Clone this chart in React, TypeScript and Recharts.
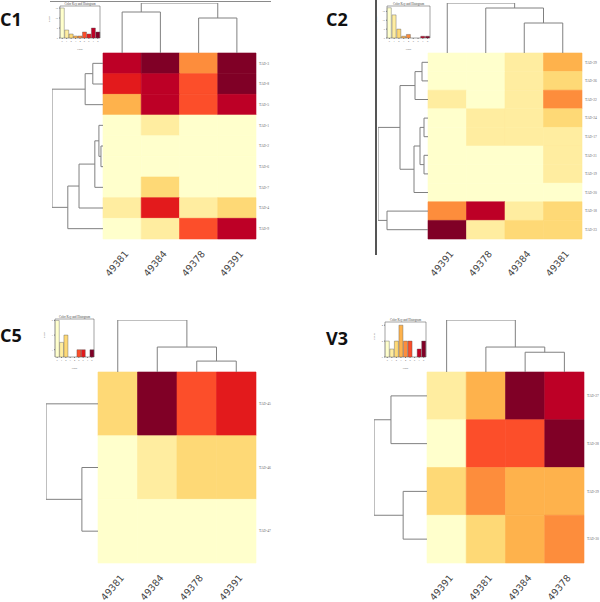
import React from 'react';
import {
  ScatterChart, Scatter, XAxis, YAxis, ReferenceArea, ReferenceLine,
  BarChart, Bar, Cell,
} from 'recharts';

// ColorBrewer YlOrRd, 9 levels
const PALETTE = ['#FFFFCC', '#FFEDA0', '#FED976', '#FEB24C', '#FD8D3C', '#FC4E2A', '#E31A1C', '#BD0026', '#800026'];

// ---------- C1 ----------
const C1_COLS = ['49381', '49384', '49378', '49391'];
const C1_ROWS = ['TAD-3', 'TAD-8', 'TAD-5', 'TAD-1', 'TAD-2', 'TAD-6', 'TAD-7', 'TAD-4', 'TAD-9'];
const C1_LEVELS = [
  [7, 8, 4, 8],
  [6, 7, 5, 8],
  [3, 7, 5, 7],
  [0, 1, 0, 0],
  [0, 0, 0, 0],
  [0, 0, 0, 0],
  [0, 2, 0, 0],
  [1, 6, 1, 2],
  [0, 1, 5, 7],
];
const C1_COL_MERGES: [number, number, number][] = [[0, 1, 0.82], [2, 3, 0.70], [4, 5, 1.0]];
const C1_ROW_MERGES: [number, number, number][] = [
  [0, 1, 0.20], [9, 2, 0.35], [4, 5, 0.04], [3, 11, 0.08], [12, 6, 0.16], [13, 7, 0.47], [14, 8, 0.69], [10, 15, 1.0],
];
const C1_HIST = [15, 4, 2, 1, 1, 3, 2, 5, 3];

// ---------- C2 ----------
const C2_COLS = ['49391', '49378', '49384', '49381'];
const C2_ROWS = ['TAD-29', 'TAD-26', 'TAD-22', 'TAD-24', 'TAD-17', 'TAD-21', 'TAD-19', 'TAD-20', 'TAD-18', 'TAD-23'];
const C2_LEVELS = [
  [0, 0, 1, 3],
  [0, 0, 1, 2],
  [1, 0, 1, 4],
  [0, 1, 1, 2],
  [0, 1, 1, 1],
  [0, 0, 0, 1],
  [0, 0, 0, 1],
  [0, 0, 0, 0],
  [4, 7, 1, 2],
  [8, 1, 2, 2],
];
const C2_COL_MERGES: [number, number, number][] = [[2, 3, 0.6], [1, 4, 0.9], [0, 5, 1.0]];
const C2_ROW_MERGES: [number, number, number][] = [
  [0, 1, 0.12], [10, 2, 0.26], [3, 4, 0.08], [5, 6, 0.08], [12, 13, 0.16], [14, 7, 0.28], [11, 15, 0.56], [8, 9, 0.82], [16, 17, 1.0],
];
const C2_HIST = [17, 13, 5, 1, 2, 0, 0, 1, 1];

// ---------- C5 ----------
const C5_COLS = ['49381', '49384', '49378', '49391'];
const C5_ROWS = ['TAD-45', 'TAD-46', 'TAD-47'];
const C5_LEVELS = [
  [2, 8, 5, 6],
  [0, 1, 2, 2],
  [0, 0, 0, 0],
];
const C5_COL_MERGES: [number, number, number][] = [[2, 3, 0.21], [1, 4, 0.48], [0, 5, 1.0]];
const C5_ROW_MERGES: [number, number, number][] = [[1, 2, 0.31], [0, 3, 1.0]];
const C5_HIST = [5, 2, 3, 0, 0, 1, 1, 0, 1];

// ---------- V3 ----------
const V3_COLS = ['49391', '49381', '49384', '49378'];
const V3_ROWS = ['TAD-27', 'TAD-28', 'TAD-29', 'TAD-30'];
const V3_LEVELS = [
  [1, 3, 8, 7],
  [0, 5, 5, 8],
  [2, 4, 3, 3],
  [0, 2, 3, 4],
];
const V3_COL_MERGES: [number, number, number][] = [[2, 3, 0.38], [1, 4, 0.48], [0, 5, 1.0]];
const V3_ROW_MERGES: [number, number, number][] = [[0, 1, 0.68], [2, 3, 0.45], [4, 5, 1.0]];
const V3_HIST = [2, 1, 2, 4, 2, 2, 0, 1, 2];

type Pt = { x: number; y: number };
type Seg = [Pt, Pt];

function dendro(n: number, merges: [number, number, number][], side: 'top' | 'left', span: number): Seg[] {
  const pos: number[] = [];
  const hgt: number[] = [];
  for (let i = 0; i < n; i++) { pos.push(i + 0.5); hgt.push(0); }
  const segs: Seg[] = [];
  const P = (p: number, h: number): Pt => (side === 'top' ? { x: p, y: -h * span } : { x: -h * span, y: p });
  merges.forEach(([a, b, h], k) => {
    const id = n + k;
    pos[id] = (pos[a] + pos[b]) / 2;
    hgt[id] = h;
    segs.push([P(pos[a], hgt[a]), P(pos[a], h)]);
    segs.push([P(pos[b], hgt[b]), P(pos[b], h)]);
    segs.push([P(pos[a], h), P(pos[b], h)]);
  });
  return segs;
}

type PanelCfg = {
  title: string;
  titlePos: { left: number; top: number };
  cols: string[];
  rows: string[];
  levels: number[][];
  colMerges: [number, number, number][];
  rowMerges: [number, number, number][];
  hist: number[];
  histMax: number;
  histTicks: number[];
  heat: { x: number; y: number; w: number; h: number };
  dl: number;
  dt: number;
  inset: { left: number; top: number; w: number; h: number };
};

const ColTick = (props: any) => {
  const { x, y, payload, labels } = props;
  const label = labels[Math.floor(payload.value)];
  const ax = x + 7;
  const ay = y + 15;
  return (
    <text x={ax} y={ay} transform={`rotate(-50, ${ax}, ${ay})`} textAnchor="end"
      fontSize={9.5} fill="#444" fontFamily="DejaVu Sans, sans-serif">
      {label}
    </text>
  );
};

function Heatmap({ cfg }: { cfg: PanelCfg }) {
  const nC = cfg.cols.length;
  const nR = cfg.rows.length;
  const colW = cfg.heat.w / nC;
  const rowH = cfg.heat.h / nR;
  const L = cfg.dl / colW;
  const T = cfg.dt / rowH;
  const width = cfg.dl + cfg.heat.w + 40;
  const height = cfg.dt + cfg.heat.h + 60;
  const cells: { x: number; y: number; c: number; r: number; lv: number }[] = [];
  cfg.levels.forEach((row, r) => row.forEach((lv, c) => cells.push({ x: c + 0.5, y: r + 0.5, c, r, lv })));
  const segs = [...dendro(nC, cfg.colMerges, 'top', T), ...dendro(nR, cfg.rowMerges, 'left', L)];
  const colTicks = cfg.cols.map((_, i) => i + 0.5);
  const rowTicks = cfg.rows.map((_, i) => i + 0.5);
  return (
    <div style={{ position: 'absolute', left: cfg.heat.x - cfg.dl, top: cfg.heat.y - cfg.dt }}>
      <ScatterChart width={width} height={height} margin={{ top: 0, right: 0, bottom: 0, left: 0 }}>
        <XAxis type="number" dataKey="x" domain={[-L, nC]} allowDataOverflow ticks={colTicks} interval={0}
          axisLine={false} tickLine={false} tickSize={0} tickMargin={0} height={60}
          tick={<ColTick labels={cfg.cols} />} />
        <YAxis type="number" dataKey="y" orientation="right" reversed domain={[-T, nR]} allowDataOverflow
          ticks={rowTicks} interval={0} axisLine={false} tickLine={false} tickSize={1} tickMargin={2} width={40}
          tickFormatter={(v: number) => cfg.rows[Math.floor(v)]}
          tick={{ fontSize: 3.6, fill: '#666', textAnchor: 'start' }} />
        {cells.map((d, i) => (
          <ReferenceArea key={'c' + i} x1={d.c} x2={d.c + 1} y1={d.r} y2={d.r + 1}
            fill={PALETTE[d.lv]} fillOpacity={1} stroke={PALETTE[d.lv]} strokeWidth={0.6} ifOverflow="visible" />
        ))}
        {segs.map((s, i) => (
          <ReferenceLine key={'s' + i} segment={s} stroke="#808080" strokeWidth={1} ifOverflow="visible" />
        ))}
        <Scatter data={cells} isAnimationActive={false} shape={() => <g />} />
      </ScatterChart>
    </div>
  );
}

function Inset({ cfg }: { cfg: PanelCfg }) {
  const data = cfg.hist.map((count, i) => ({ bin: String(i), count }));
  return (
    <div style={{ position: 'absolute', left: cfg.inset.left, top: cfg.inset.top }}>
      <BarChart width={cfg.inset.w} height={cfg.inset.h} data={data} barCategoryGap="6%"
        margin={{ top: 6, right: 2, bottom: 0, left: 0 }}>
        <XAxis dataKey="bin" height={14} interval={0} tickSize={1} tickMargin={1}
          axisLine={false} tick={{ fontSize: 2.4, fill: '#555' }} stroke="#777"
          label={{ value: 'Value', position: 'insideBottom', fontSize: 2.6, fill: '#555', offset: 2 }} />
        <YAxis width={12} domain={[0, cfg.histMax]} ticks={cfg.histTicks} allowDataOverflow tickSize={1} tickMargin={1}
          axisLine={false} tick={{ fontSize: 2.4, fill: '#555' }} stroke="#777"
          label={{ value: 'Count', angle: -90, position: 'insideLeft', fontSize: 2.6, fill: '#555', offset: 1 }} />
        <ReferenceArea x1="0" x2={String(cfg.hist.length - 1)} y1={0} y2={cfg.histMax} fill="none" stroke="#666"
          strokeWidth={0.6} ifOverflow="visible"
          label={{ value: 'Color Key and Histogram', position: 'top', fontSize: 3, fill: '#444', offset: 1 }} />
        <Bar dataKey="count" isAnimationActive={false} stroke="#555" strokeWidth={0.4}>
          {data.map((d, i) => <Cell key={i} fill={PALETTE[i]} />)}
        </Bar>
      </BarChart>
    </div>
  );
}

const PANELS: PanelCfg[] = [
  {
    title: 'C1', titlePos: { left: 0, top: 10 }, cols: C1_COLS, rows: C1_ROWS, levels: C1_LEVELS,
    colMerges: C1_COL_MERGES, rowMerges: C1_ROW_MERGES, hist: C1_HIST, histMax: 16, histTicks: [0, 5, 10, 15],
    heat: { x: 103, y: 53, w: 153, h: 186 }, dl: 51, dt: 50, inset: { left: 48, top: 0, w: 54, h: 52 },
  },
  {
    title: 'C2', titlePos: { left: 326, top: 10 }, cols: C2_COLS, rows: C2_ROWS, levels: C2_LEVELS,
    colMerges: C2_COL_MERGES, rowMerges: C2_ROW_MERGES, hist: C2_HIST, histMax: 18, histTicks: [0, 5, 10, 15],
    heat: { x: 428, y: 53, w: 154, h: 186 }, dl: 50, dt: 50, inset: { left: 375, top: 0, w: 57, h: 52 },
  },
  {
    title: 'C5', titlePos: { left: 0, top: 326 }, cols: C5_COLS, rows: C5_ROWS, levels: C5_LEVELS,
    colMerges: C5_COL_MERGES, rowMerges: C5_ROW_MERGES, hist: C5_HIST, histMax: 5.2, histTicks: [0, 1, 2, 3, 4, 5],
    heat: { x: 98, y: 372, w: 158, h: 191 }, dl: 52, dt: 52, inset: { left: 43, top: 313, w: 53, h: 58 },
  },
  {
    title: 'V3', titlePos: { left: 326, top: 329 }, cols: V3_COLS, rows: V3_ROWS, levels: V3_LEVELS,
    colMerges: V3_COL_MERGES, rowMerges: V3_ROW_MERGES, hist: V3_HIST, histMax: 4.4, histTicks: [0, 1, 2, 3, 4],
    heat: { x: 427, y: 372, w: 157, h: 191 }, dl: 53, dt: 52, inset: { left: 373, top: 316, w: 55, h: 55 },
  },
];

export default function App() {
  return (
    <div style={{ position: 'absolute', left: 0, top: 0, width: 600, height: 602, background: '#fff', overflow: 'hidden' }}>
      {/* frame edges visible in the source figure */}
      <div style={{ position: 'absolute', left: 50, top: 1, width: 221, height: 1, background: '#8a8a8a' }} />
      <div style={{ position: 'absolute', left: 375, top: 0, width: 2, height: 255, background: '#555' }} />
      {PANELS.map((p) => (
        <React.Fragment key={p.title}>
          <Heatmap cfg={p} />
          <Inset cfg={p} />
          <div style={{
            position: 'absolute', left: p.titlePos.left, top: p.titlePos.top, fontFamily: 'Open Sans, sans-serif',
            fontWeight: 700, fontSize: 18, lineHeight: '18px', color: '#111',
          }}>{p.title}</div>
        </React.Fragment>
      ))}
    </div>
  );
}
